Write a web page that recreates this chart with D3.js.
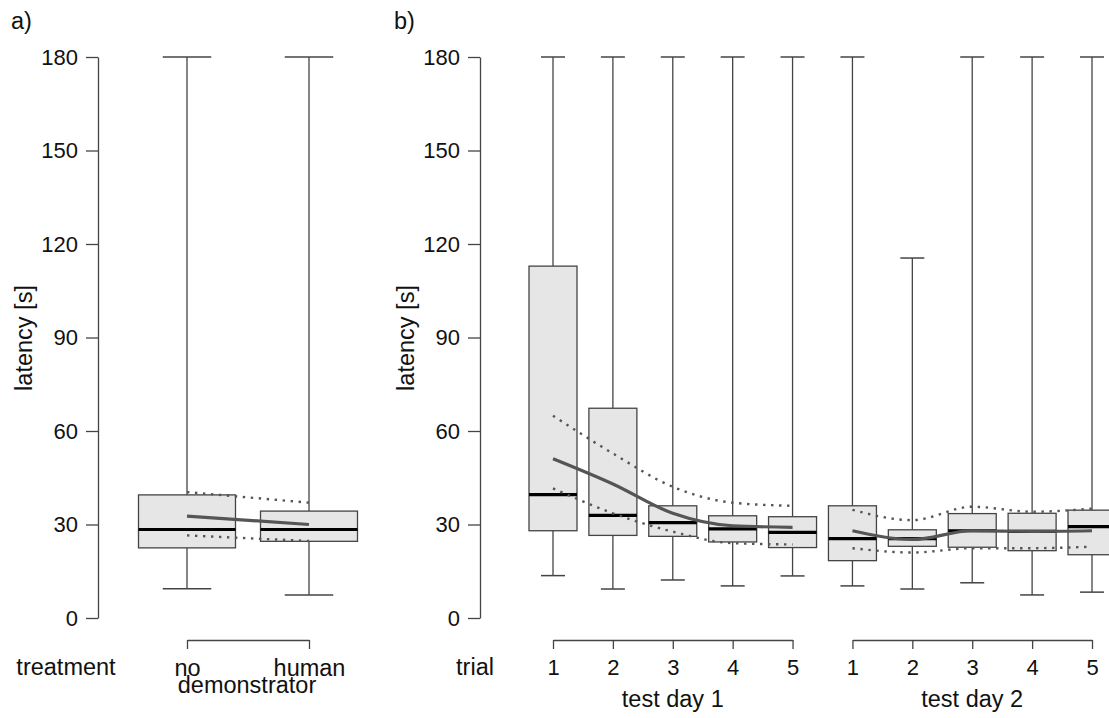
<!DOCTYPE html>
<html><head><meta charset="utf-8">
<script src="https://cdn.jsdelivr.net/npm/d3@7"></script>
<style>
body{margin:0;background:#fff;}
svg{display:block;font-family:"Liberation Sans",Arial,sans-serif;}
</style></head>
<body><svg id="c" width="1109" height="718"></svg>
<script>
// ---------- DATA ----------
const yTicks = [0, 30, 60, 90, 120, 150, 180];
// panel a
const treatments = ["no", "human"];
const aLow = [9.4, 7.4];
const aQ1 = [22.5, 24.6];
const aMed = [28.4, 28.4];
const aQ3 = [39.5, 34.3];
const aHigh = [180, 180];
const aMean = [32.7, 30.0];
const aUpper = [40.4, 37.0];
const aLower = [26.5, 24.7];
// panel b
const trials = ["1", "2", "3", "4", "5"];
const days = ["test day 1", "test day 2"];
const bLow  = [13.6, 9.3, 12.2, 10.3, 13.5, 10.3, 9.3, 11.3, 7.4, 8.3];
const bQ1   = [28.0, 26.5, 26.2, 24.4, 22.6, 18.4, 23.0, 22.7, 21.6, 20.3];
const bMed  = [39.6, 32.9, 30.6, 28.6, 27.5, 25.5, 25.5, 28.0, 27.8, 29.3];
const bQ3   = [112.9, 67.3, 36.0, 32.8, 32.5, 36.0, 28.3, 33.5, 33.6, 34.6];
const bHigh = [180, 180, 180, 180, 180, 180, 115.5, 180, 180, 180];
const bMean  = [[51.1, 43.0, 33.6, 29.6, 29.1], [28.0, 25.2, 28.0, 27.8, 28.0]];
const bUpper = [[64.9, 52.8, 42.1, 37.0, 36.0], [34.7, 31.4, 35.7, 34.1, 35.1]];
const bLower = [[41.6, 33.6, 27.7, 24.0, 23.6], [22.4, 21.0, 22.4, 22.4, 22.9]];

// ---------- DRAW ----------
const svg = d3.select("#c");
const FS = 22;     // digits
const FW = 23.5;   // words
const y = d3.scaleLinear([0, 180], [618, 57]);

const boxFill = "#e6e6e6", ink = "#444";

function yAxis(g) {
  g.call(d3.axisLeft(y).tickValues(yTicks).tickSize(12).tickSizeOuter(0).tickPadding(8))
   .call(s => s.selectAll("text").attr("font-size", FS).attr("fill", "#111"))
   .call(s => s.selectAll("line,path").attr("stroke", ink).attr("stroke-width", 1.3));
  g.attr("font-family", null);
}

function drawBox(g, cx, hw, lo, q1, med, q3, hi) {
  const cap = hw / 2;
  g.append("line").attr("x1", cx).attr("x2", cx).attr("y1", y(hi)).attr("y2", y(q3)).attr("stroke", ink).attr("stroke-width", 1.3);
  g.append("line").attr("x1", cx).attr("x2", cx).attr("y1", y(q1)).attr("y2", y(lo)).attr("stroke", ink).attr("stroke-width", 1.3);
  g.append("line").attr("x1", cx - cap).attr("x2", cx + cap).attr("y1", y(hi)).attr("y2", y(hi)).attr("stroke", ink).attr("stroke-width", 1.5);
  g.append("line").attr("x1", cx - cap).attr("x2", cx + cap).attr("y1", y(lo)).attr("y2", y(lo)).attr("stroke", ink).attr("stroke-width", 1.5);
  g.append("rect").attr("x", cx - hw).attr("width", 2 * hw).attr("y", y(q3)).attr("height", y(q1) - y(q3))
   .attr("fill", boxFill).attr("stroke", ink).attr("stroke-width", 1.3);
  g.append("line").attr("x1", cx - hw).attr("x2", cx + hw).attr("y1", y(med)).attr("y2", y(med)).attr("stroke", "#000").attr("stroke-width", 3.2);
}

function text(g, x, yy, s, anchor, size, extra) {
  const t = g.append("text").attr("x", x).attr("y", yy).attr("font-size", size || FW).attr("fill", "#111")
    .attr("text-anchor", anchor || "middle").text(s);
  if (extra) extra(t);
  return t;
}

// ===== Panel a =====
const ga = svg.append("g");
const xA = d3.scalePoint(treatments, [187, 309]);
ga.append("g").attr("transform", "translate(98,0)").call(yAxis);
text(ga, 11, 29, "a)", "start");
text(ga, 0, 0, "latency [s]", "middle", FW, t => t.attr("transform", "translate(32,338) rotate(-90)"));

treatments.forEach((d, i) => drawBox(ga, xA(d), 48.5, aLow[i], aQ1[i], aMed[i], aQ3[i], aHigh[i]));

const lineA = d3.line().x((v, i) => xA(treatments[i])).y(v => y(v));
ga.append("path").attr("d", lineA(aMean)).attr("fill", "none").attr("stroke", "#555").attr("stroke-width", 3.2);
[aUpper, aLower].forEach(arr => ga.append("path").attr("d", lineA(arr)).attr("fill", "none")
  .attr("stroke", "#555").attr("stroke-width", 2.4).attr("stroke-dasharray", "2.4,5.6"));

const axA = ga.append("g").attr("transform", "translate(0,640)")
  .call(d3.axisBottom(xA).tickSize(9).tickSizeOuter(0).tickPadding(10))
  .attr("font-family", null);
axA.selectAll("text").attr("font-size", FW).attr("fill", "#111");
axA.selectAll("line,path").attr("stroke", ink).attr("stroke-width", 1.3);
text(ga, 66, 675, "treatment");
text(ga, 247, 693, "demonstrator");

// ===== Panel b =====
const gb = svg.append("g");
const xB = d3.scaleLinear([1, 10], [553, 1092]);
gb.append("g").attr("transform", "translate(480,0)").call(yAxis);
text(gb, 394, 29, "b)", "start");
text(gb, 0, 0, "latency [s]", "middle", FW, t => t.attr("transform", "translate(414,338) rotate(-90)"));

bMed.forEach((m, i) => drawBox(gb, xB(i + 1), 24, bLow[i], bQ1[i], bMed[i], bQ3[i], bHigh[i]));

days.forEach((day, di) => {
  const lineB = d3.line().x((v, i) => xB(di * 5 + i + 1)).y(v => y(v)).curve(d3.curveMonotoneX);
  gb.append("path").attr("d", lineB(bMean[di])).attr("fill", "none").attr("stroke", "#555").attr("stroke-width", 3.2);
  [bUpper[di], bLower[di]].forEach(arr => gb.append("path").attr("d", lineB(arr)).attr("fill", "none")
    .attr("stroke", "#555").attr("stroke-width", 2.4).attr("stroke-dasharray", "2.4,5.6"));

  const xd = d3.scalePoint(trials, [xB(di * 5 + 1), xB(di * 5 + 5)]);
  const ax = gb.append("g").attr("transform", "translate(0,640)")
    .call(d3.axisBottom(xd).tickSize(9).tickSizeOuter(0).tickPadding(10))
    .attr("font-family", null);
  ax.selectAll("text").attr("font-size", FS).attr("fill", "#111");
  ax.selectAll("line,path").attr("stroke", ink).attr("stroke-width", 1.3);
  text(gb, (xB(di * 5 + 1) + xB(di * 5 + 5)) / 2, 707, day);
});
text(gb, 475, 675, "trial");
</script></body></html>
